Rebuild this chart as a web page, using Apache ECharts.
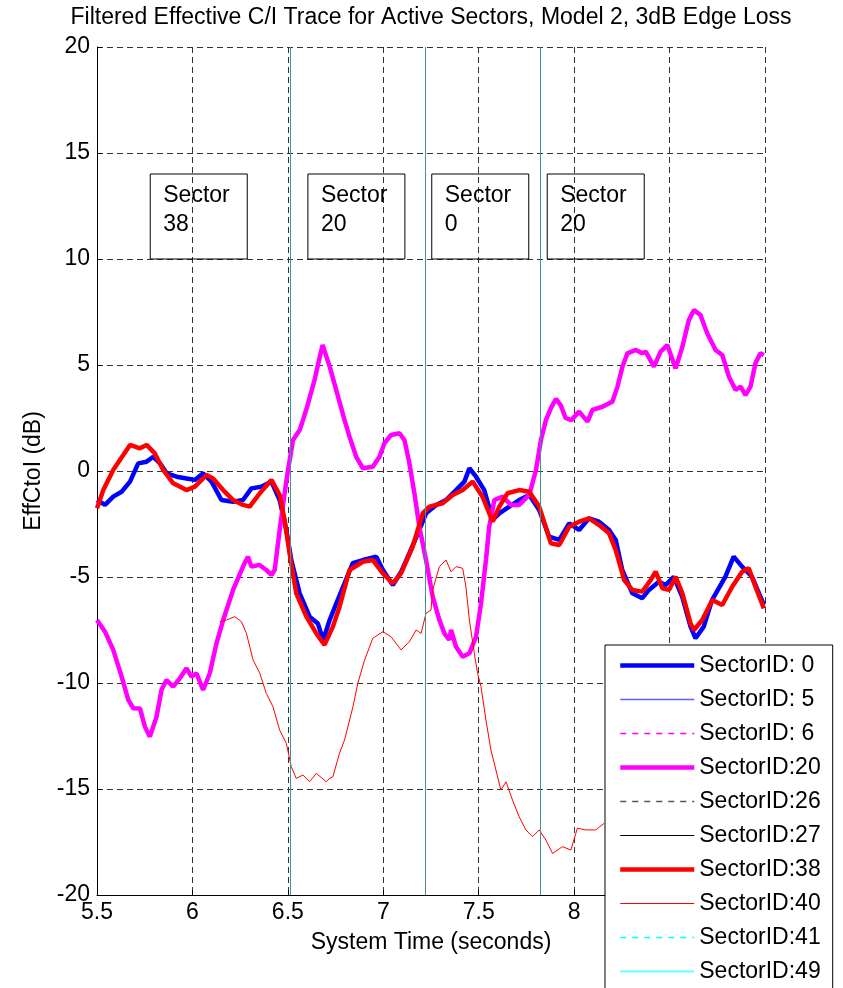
<!DOCTYPE html>
<html>
<head>
<meta charset="utf-8">
<title>Filtered Effective C/I Trace</title>
<script src="https://cdn.jsdelivr.net/npm/echarts@6/dist/echarts.min.js"></script>
<style>
    html, body { margin: 0; padding: 0; background: #fff; }
    #container { width: 843px; height: 988px; }
</style>
</head>
<body>
<div id="container"></div>
<script>
// traces: [time (s), EffCtoI (dB)]
var sector0 = [
    [5.5,-1.37],[5.542,-1.6],[5.585,-1.21],[5.629,-0.98],[5.673,-0.5],[5.716,0.36],[5.76,0.44],
    [5.795,0.67],[5.83,0.36],[5.865,-0.11],[5.917,-0.27],[5.969,-0.35],[6.013,-0.42],[6.056,-0.11],
    [6.1,-0.5],[6.152,-1.37],[6.213,-1.45],[6.265,-1.37],[6.309,-0.82],[6.361,-0.74],[6.414,-0.5],
    [6.457,-1.37],[6.492,-2.78],[6.518,-4.2],[6.562,-5.77],[6.614,-6.87],[6.657,-7.19],[6.685,-7.97],
    [6.719,-7.03],[6.754,-6.24],[6.797,-5.3],[6.84,-4.35],[6.893,-4.2],[6.963,-4.04],[6.998,-4.67],
    [7.05,-5.38],[7.094,-4.75],[7.137,-3.88],[7.189,-2.78],[7.224,-2.0],[7.277,-1.6],[7.329,-1.37],
    [7.381,-0.9],[7.425,-0.5],[7.451,0.13],[7.486,-0.27],[7.529,-0.9],[7.573,-2.31],[7.608,-2.0],
    [7.66,-1.68],[7.712,-1.37],[7.765,-1.13],[7.817,-1.84],[7.869,-3.1],[7.922,-3.25],[7.974,-2.47],
    [8.026,-2.78],[8.078,-2.23],[8.13,-2.39],[8.183,-2.78],[8.218,-3.25],[8.252,-4.67],[8.305,-5.77],
    [8.357,-6.0],[8.392,-5.61],[8.444,-5.22],[8.479,-5.38],[8.522,-4.99],[8.566,-5.93],[8.61,-7.34],
    [8.636,-7.89],[8.679,-7.34],[8.723,-6.08],[8.792,-4.99],[8.836,-4.04],[8.88,-4.51],[8.932,-4.99],
    [8.994,-6.32]
];

var sector20 = [
    [5.5,-7.03],[5.542,-7.58],[5.585,-8.44],[5.629,-9.7],[5.664,-10.8],[5.69,-11.19],[5.725,-11.2],
    [5.751,-12.06],[5.777,-12.53],[5.812,-11.59],[5.838,-10.33],[5.864,-9.86],[5.899,-10.17],
    [5.934,-9.78],[5.969,-9.31],[5.995,-9.7],[6.021,-9.54],[6.056,-10.33],[6.091,-9.54],[6.126,-8.13],
    [6.161,-7.03],[6.187,-6.32],[6.213,-5.61],[6.265,-4.51],[6.291,-4.04],[6.309,-4.51],[6.352,-4.43],
    [6.387,-4.67],[6.414,-4.9],[6.431,-4.67],[6.457,-2.78],[6.483,-1.05],[6.501,0.05],[6.527,1.46],
    [6.562,1.93],[6.579,2.4],[6.6,3.0],[6.64,4.3],[6.665,5.3],[6.682,5.94],[6.72,4.9],[6.76,3.6],
    [6.797,2.4],[6.823,1.62],[6.858,0.67],[6.893,0.13],[6.945,0.2],[6.98,0.67],[7.006,1.31],
    [7.041,1.7],[7.085,1.78],[7.111,1.46],[7.137,0.36],[7.163,-1.05],[7.189,-2.63],[7.224,-4.2],
    [7.259,-5.93],[7.294,-7.03],[7.32,-7.66],[7.346,-7.97],[7.355,-7.5],[7.381,-8.29],[7.416,-8.76],
    [7.451,-8.6],[7.486,-7.82],[7.512,-6.24],[7.538,-4.2],[7.555,-2.63],[7.582,-1.37],[7.625,-1.21],
    [7.669,-1.6],[7.712,-1.6],[7.765,-1.13],[7.8,0.05],[7.826,1.46],[7.852,2.4],[7.88,3.0],
    [7.905,3.4],[7.93,3.1],[7.955,2.5],[7.985,2.4],[8.026,2.8],[8.07,2.33],[8.096,2.88],[8.148,3.03],
    [8.2,3.27],[8.227,3.98],[8.253,4.92],[8.279,5.55],[8.323,5.71],[8.357,5.55],[8.375,5.63],
    [8.418,4.92],[8.453,5.63],[8.488,5.94],[8.532,4.84],[8.567,5.86],[8.601,7.12],[8.628,7.59],
    [8.662,7.36],[8.697,6.5],[8.741,5.71],[8.776,5.47],[8.811,4.45],[8.846,3.82],[8.872,3.98],
    [8.898,3.58],[8.924,3.98],[8.95,5.08],[8.976,5.55],[8.994,5.47]
];

var sector38 = [
    [5.5,-1.76],[5.533,-0.9],[5.585,0.05],[5.62,0.52],[5.673,1.23],[5.725,1.07],[5.76,1.23],
    [5.803,0.83],[5.847,0.05],[5.899,-0.58],[5.969,-0.9],[6.013,-0.74],[6.074,-0.19],[6.108,-0.35],
    [6.161,-0.9],[6.213,-1.37],[6.265,-1.6],[6.3,-1.68],[6.353,-1.05],[6.414,-0.42],[6.457,-1.13],
    [6.483,-2.31],[6.509,-3.88],[6.544,-5.77],[6.597,-6.87],[6.649,-7.66],[6.692,-8.2],[6.736,-7.34],
    [6.771,-6.4],[6.823,-4.67],[6.893,-4.28],[6.945,-4.2],[6.998,-4.83],[7.05,-5.3],[7.093,-4.83],
    [7.154,-3.57],[7.207,-2.0],[7.242,-1.68],[7.311,-1.52],[7.364,-1.13],[7.416,-0.9],[7.468,-0.5],
    [7.52,-1.21],[7.573,-2.39],[7.608,-1.68],[7.651,-1.05],[7.712,-0.9],[7.765,-0.98],[7.817,-1.68],
    [7.878,-3.41],[7.922,-3.49],[7.974,-2.63],[8.026,-2.39],[8.078,-2.23],[8.131,-2.55],[8.183,-2.94],
    [8.218,-3.73],[8.262,-5.14],[8.305,-5.61],[8.357,-5.69],[8.401,-5.14],[8.427,-4.75],[8.462,-5.53],
    [8.497,-5.61],[8.532,-4.99],[8.567,-5.77],[8.61,-7.19],[8.628,-7.5],[8.671,-7.03],[8.724,-6.08],
    [8.776,-6.32],[8.828,-5.46],[8.88,-4.75],[8.915,-4.59],[8.95,-5.46],[8.994,-6.48]
];

var sector40 = [
    [6.143,-7.11],[6.178,-7.03],[6.222,-6.87],[6.257,-7.11],[6.283,-7.66],[6.318,-8.92],[6.353,-9.54],
    [6.387,-10.49],[6.422,-11.12],[6.457,-12.22],[6.492,-12.85],[6.518,-13.95],[6.544,-14.5],
    [6.579,-14.34],[6.614,-14.66],[6.649,-14.26],[6.701,-14.66],[6.719,-14.5],[6.736,-14.42],
    [6.771,-13.3],[6.797,-12.69],[6.841,-11.12],[6.867,-10.0],[6.902,-8.92],[6.945,-7.89],[6.998,-7.58],
    [7.041,-7.82],[7.093,-8.44],[7.137,-8.05],[7.172,-7.5],[7.198,-7.66],[7.224,-6.71],[7.25,-6.56],
    [7.259,-5.6],[7.294,-4.51],[7.329,-4.2],[7.355,-4.75],[7.381,-4.51],[7.416,-4.59],[7.433,-5.46],
    [7.451,-7.03],[7.477,-8.6],[7.494,-9.54],[7.512,-10.17],[7.538,-11.75],[7.564,-13.16],[7.59,-14.1],
    [7.616,-15.05],[7.643,-14.66],[7.677,-15.52],[7.712,-16.31],[7.747,-16.93],[7.782,-17.25],
    [7.817,-16.93],[7.852,-17.41],[7.887,-18.04],[7.939,-17.72],[7.983,-17.88],[8.017,-16.85],
    [8.061,-16.93],[8.113,-16.93],[8.157,-16.62]
];

// sectors in the legend with nothing visible on the plot
var emptyTrace = [];

// handoff times (thin vertical lines)
var handoffTimes = [6.511, 7.225, 7.822];

// active sector boxes: left edge time, bottom value, text
var boxTimes = [5.779, 6.605, 7.254, 7.859];
var boxLevel = 10;
var boxTexts = ['Sector\n38', 'Sector\n20', 'Sector\n0', 'Sector\n20'];

var xTicks = { min: 5.5, max: 9, interval: 0.5 };
var yTicks = { min: -20, max: 20, interval: 5 };

var FONT = '"Liberation Sans", Arial, Helvetica, sans-serif';

// name, data, colour, width, dash
var sectorList = [
    ['SectorID: 0', sector0, '#0000ff', 4.5, 'solid'],
    ['SectorID: 5', emptyTrace, '#5566ff', 1.5, 'solid'],
    ['SectorID: 6', emptyTrace, '#ff00ff', 1.5, [6, 6]],
    ['SectorID:20', sector20, '#ff00ff', 4.5, 'solid'],
    ['SectorID:26', emptyTrace, '#555555', 1.5, [6, 6]],
    ['SectorID:27', emptyTrace, '#000000', 1, 'solid'],
    ['SectorID:38', sector38, '#ff0000', 4.5, 'solid'],
    ['SectorID:40', sector40, '#ff0000', 1, 'solid'],
    ['SectorID:41', emptyTrace, '#00ffff', 1.5, [6, 6]],
    ['SectorID:49', emptyTrace, '#66ffff', 2, 'solid']
];

var dom = document.getElementById('container');
var myChart = echarts.init(dom, null, { renderer: 'canvas' });

var seriesList = [];
var legendData = [];
sectorList.forEach(function (s) {
    seriesList.push({
        name: s[0],
        type: 'line',
        data: s[1],
        symbol: 'none',
        showSymbol: false,
        color: s[2],
        lineStyle: { color: s[2], width: s[3], type: s[4] },
        emphasis: { disabled: true }
    });
    legendData.push({
        name: s[0],
        lineStyle: { color: s[2], width: s[3], type: s[4], opacity: 1 }
    });
});

// handoff markers
seriesList.push({
    name: 'handoff',
    type: 'line',
    data: [],
    symbol: 'none',
    markLine: {
        silent: true,
        symbol: 'none',
        label: { show: false },
        lineStyle: { color: '#3f9696', width: 1, type: 'solid' },
        data: handoffTimes.map(function (t) { return { xAxis: t }; })
    }
});

var option = {
    animation: false,
    textStyle: { fontFamily: FONT },
    title: {
        text: 'Filtered Effective C/I Trace for Active Sectors, Model 2, 3dB Edge Loss',
        left: 431,
        textAlign: 'center',
        top: 6,
        padding: 0,
        textStyle: { fontFamily: FONT, fontSize: 23, fontWeight: 'normal', color: '#000' }
    },
    grid: { left: 97, right: 78, top: 47, bottom: 93 },
    xAxis: {
        type: 'value',
        min: xTicks.min, max: xTicks.max, interval: xTicks.interval,
        name: 'System Time (seconds)',
        nameLocation: 'middle',
        nameGap: 36,
        nameTextStyle: { fontFamily: FONT, fontSize: 23, color: '#000' },
        axisLine: { onZero: false, lineStyle: { color: '#000', width: 1 } },
        axisTick: { inside: true, length: 5, lineStyle: { color: '#000' } },
        axisLabel: { margin: 6, fontFamily: FONT, fontSize: 23, color: '#000' },
        splitLine: { show: true, lineStyle: { color: '#333', width: 1, type: [6, 4] } }
    },
    yAxis: {
        type: 'value',
        min: yTicks.min, max: yTicks.max, interval: yTicks.interval,
        name: 'EffCtoI (dB)',
        nameLocation: 'middle',
        nameGap: 52,
        nameTextStyle: { fontFamily: FONT, fontSize: 23, color: '#000' },
        axisLine: { show: true, onZero: false, lineStyle: { color: '#000', width: 1 } },
        axisTick: { show: true, inside: true, length: 5, lineStyle: { color: '#000' } },
        axisLabel: { margin: 7, fontFamily: FONT, fontSize: 23, color: '#000' },
        splitLine: { show: true, lineStyle: { color: '#333', width: 1, type: [6, 4] } }
    },
    legend: {
        orient: 'vertical',
        left: 605,
        top: 645,
        height: 420,
        padding: [9, 12, 14, 13],
        itemWidth: 74,
        itemHeight: 14,
        itemGap: 11,
        backgroundColor: '#fff',
        borderColor: '#000',
        borderWidth: 1,
        borderRadius: 0,
        selectedMode: false,
        itemStyle: { opacity: 0 },
        textStyle: { fontFamily: FONT, fontSize: 23, lineHeight: 23, color: '#000', padding: [0, 0, 0, 0] },
        data: legendData
    },
    series: seriesList
};

myChart.setOption(option);

// text boxes anchored at data coordinates
var boxW = 97, boxH = 85;
var boxes = boxTimes.map(function (t, i) {
    var p = myChart.convertToPixel({ gridIndex: 0 }, [t, boxLevel]);
    return {
        type: 'group',
        x: p[0],
        y: p[1] - boxH,
        z: 10,
        children: [
            {
                type: 'rect',
                shape: { x: 0, y: 0, width: boxW, height: boxH },
                style: { fill: 'transparent', stroke: '#000', lineWidth: 1 }
            },
            {
                type: 'text',
                x: 13,
                y: 7,
                style: {
                    text: boxTexts[i],
                    fontFamily: FONT,
                    fontSize: 23,
                    lineHeight: 29,
                    fill: '#000'
                }
            }
        ]
    };
});
myChart.setOption({ graphic: boxes });

window.addEventListener('resize', myChart.resize);
</script>
</body>
</html>
